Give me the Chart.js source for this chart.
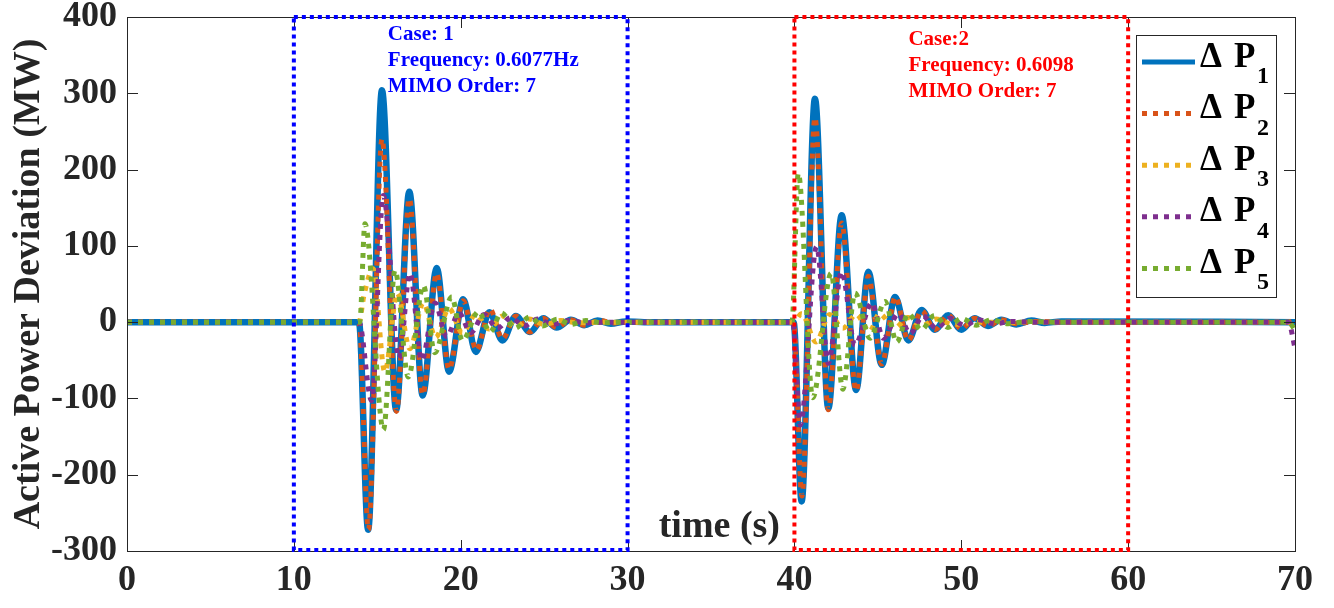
<!DOCTYPE html>
<html>
<head>
<meta charset="utf-8">
<script src="https://cdn.jsdelivr.net/npm/chart.js@4.4.1/dist/chart.umd.min.js"></script>
<style>
  html, body { margin: 0; padding: 0; background: #fff; }
  #wrap { width: 1334px; height: 608px; }
</style>
</head>
<body>
<div id="wrap"><canvas id="c" width="1334" height="608"></canvas></div>
<script>
// values: time (s) and active power deviation (MW)
var tP1 = [0, 13.9, 14.45, 15.28, 16.13, 16.92, 17.72, 18.56, 19.3, 20.15, 20.9, 21.72, 22.5, 23.3, 24.15, 24.95, 25.75, 26.6, 27.4, 28.2, 29.0, 29.9, 31.0, 39.95, 40.43, 41.23, 42.03, 42.83, 43.7, 44.43, 45.23, 46.03, 46.83, 47.62, 48.42, 49.22, 50.0, 50.8, 51.6, 52.4, 53.3, 54.2, 55.0, 56.0, 70];
var vP1 = [0, 0, -272, 304, -115, 171, -96, 71, -65, 30, -39, 13, -24, 8, -13, 5, -7, 3, -4, 2, -2, 1, 0, 0, -235, 293, -113, 140, -89, 66, -56, 33, -24, 16, -10, 9, -10, 5, -5, 3, -3, 2, -1, 1, 0];

var tP2 = [0, 13.9, 14.47, 15.28, 16.15, 16.92, 17.72, 18.56, 19.3, 20.15, 20.95, 21.75, 22.5, 23.3, 24.15, 24.95, 25.75, 26.6, 27.4, 28.3, 29.2, 30.5, 39.95, 40.45, 41.23, 42.03, 42.83, 43.7, 44.43, 45.23, 46.05, 46.83, 47.62, 48.42, 49.22, 50.0, 50.8, 51.6, 52.4, 53.3, 54.5, 56.0, 69.6, 70];
var vP2 = [0, 0, -272, 240, -117, 162, -95, 64, -62, 28, -37, 17, -22, 8, -13, 5, -7, 3, -4, 2, -1, 0, 0, -228, 268, -115, 130, -90, 60, -55, 33, -24, 15, -10, 9, -9, 5, -5, 3, -2, 1, 0, 0, 3];

var tP3 = [0, 13.9, 14.2, 14.75, 15.45, 16.2, 16.95, 17.75, 18.5, 19.3, 20.1, 20.9, 21.7, 22.5, 23.3, 24.1, 25.0, 26.0, 27.0, 28.5, 39.95, 40.43, 41.3, 42.1, 42.9, 43.7, 44.5, 45.1, 46.0, 46.8, 47.6, 48.5, 49.5, 51.0, 70];
var vP3 = [0, 0, 35, 70, -65, 38, -35, 25, -20, 18, -14, 10, -9, 8, -6, 4, -3, 2, -1, 0, 0, 11, -26, 10, -8, 10, -12, 11, -8, 6, -5, 4, -3, 0, 0];

var tP4 = [0, 13.9, 14.66, 15.36, 16.3, 16.96, 17.66, 18.46, 19.16, 19.9, 20.6, 21.4, 22.2, 23.0, 23.8, 24.6, 25.5, 26.5, 27.5, 29.0, 39.9, 40.35, 41.33, 42.03, 42.83, 43.63, 44.63, 45.33, 46.23, 46.93, 47.7, 48.5, 49.3, 50.2, 51.0, 52.0, 53.0, 54.0, 69.6, 70];
var vP4 = [0, 0, -103, 166, -47, 64, -50, 25, -19, 12, -14, 10, -8, 6, -5, 4, -3, 2, -1, 0, 0, -135, 99, -54, 66, -30, 25, -21, 11, -15, 8, -8, 5, -4, 3, -2, 1, 0, 0, -34];

var tP5 = [0, 13.95, 14.26, 15.37, 16.06, 16.86, 17.76, 18.45, 19.46, 20.1, 21.07, 21.75, 22.45, 23.25, 24.15, 24.9, 25.8, 26.6, 27.5, 28.5, 29.5, 39.85, 40.23, 41.1, 42.2, 42.9, 43.63, 44.53, 45.43, 46.13, 46.83, 47.6, 48.4, 49.2, 50.0, 50.9, 51.8, 52.8, 54.0, 55.5, 69.6, 70];
var vP5 = [0, 0, 129, -141, 68, -72, 48, -40, 33, -24, 14, -13, 12, -8, 7, -5, 4, -3, 2, -1, 0, 0, 195, -99, 64, -88, 38, -21, 27, -26, 11, -10, 9, -7, 5, -4, 3, -2, 1, 0, 0, -10];

var seriesNames = ['Δ P₁', 'Δ P₂', 'Δ P₃', 'Δ P₄', 'Δ P₅'];
var seriesSubs = ['1', '2', '3', '4', '5'];

// the two highlighted cases
var caseFrom = [10, 40];
var caseTo = [30, 60];
var caseNotes = [
  ['Case: 1', 'Frequency: 0.6077Hz', 'MIMO Order: 7'],
  ['Case:2', 'Frequency: 0.6098', 'MIMO Order: 7']
];

var xTitle = 'time (s)';
var yTitle = 'Active Power Deviation (MW)';

var colors = ['#0072BD', '#D95319', '#EDB120', '#7E2F8E', '#77AC30'];
var caseColors = ['#0000FF', '#FF0000'];
var serif = '"Liberation Serif", "Times New Roman", serif';

function pts(t, v) {
  return t.map(function (x, i) { return { x: x, y: v[i] }; });
}

function makeSet(i, t, v) {
  return {
    label: seriesNames[i],
    data: pts(t, v),
    borderColor: colors[i],
    backgroundColor: colors[i],
    borderWidth: i == 0 ? 6.5 : 5,
    borderDash: i == 0 ? [] : [5, 6],
    pointRadius: 0,
    fill: false,
    cubicInterpolationMode: 'monotone',
    order: 5 - i
  };
}

var framePlugin = {
  id: 'frame',
  afterDatasetsDraw: function (chart) {
    var ctx = chart.ctx, a = chart.chartArea;
    var xs = chart.scales.x, ys = chart.scales.y;
    ctx.save();
    ctx.strokeStyle = '#262626';
    ctx.lineWidth = 1;
    ctx.setLineDash([]);
    ctx.strokeRect(Math.round(a.left) + 0.5, Math.round(a.top) + 0.5, Math.round(a.right - a.left), Math.round(a.bottom - a.top));
    ctx.beginPath();
    xs.ticks.forEach(function (t) {
      var px = Math.round(xs.getPixelForValue(t.value)) + 0.5;
      ctx.moveTo(px, a.bottom); ctx.lineTo(px, a.bottom - 11);
      ctx.moveTo(px, a.top); ctx.lineTo(px, a.top + 11);
    });
    ys.ticks.forEach(function (t) {
      var py = Math.round(ys.getPixelForValue(t.value)) + 0.5;
      ctx.moveTo(a.left, py); ctx.lineTo(a.left + 11, py);
      ctx.moveTo(a.right, py); ctx.lineTo(a.right - 11, py);
    });
    ctx.stroke();

    // case boxes and their notes
    for (var k = 0; k < caseFrom.length; k++) {
      var x0 = xs.getPixelForValue(caseFrom[k]);
      var x1 = xs.getPixelForValue(caseTo[k]);
      var y0 = ys.getPixelForValue(ys.max);
      var y1 = ys.getPixelForValue(ys.min) - 1;
      ctx.strokeStyle = caseColors[k];
      ctx.lineWidth = 4;
      ctx.setLineDash([4, 4]);
      ctx.strokeRect(x0, y0, x1 - x0, y1 - y0);
      ctx.setLineDash([]);
      ctx.fillStyle = caseColors[k];
      ctx.font = 'bold 21px ' + serif;
      ctx.textAlign = 'left';
      ctx.textBaseline = 'alphabetic';
      var tx = k == 0 ? x0 + 94 : x0 + 114;
      var ty = a.top + (k == 0 ? 23 : 28);
      caseNotes[k].forEach(function (line, j) {
        ctx.fillText(line, tx, ty + j * 26);
      });
    }

    // x axis title sits inside the plot
    ctx.fillStyle = '#262626';
    ctx.font = 'bold 38px ' + serif;
    ctx.textAlign = 'center';
    ctx.textBaseline = 'middle';
    ctx.fillText(xTitle, xs.getPixelForValue(35.5), a.bottom - 24);
    ctx.restore();
  },
  afterDraw: function (chart) {
    // legend box in the upper right corner
    var ctx = chart.ctx, a = chart.chartArea;
    var left = a.right - 159, top = a.top + 18, w = 140, h = 262;
    ctx.save();
    ctx.fillStyle = '#fff';
    ctx.fillRect(left, top, w, h);
    ctx.strokeStyle = '#262626';
    ctx.lineWidth = 1;
    ctx.strokeRect(left + 0.5, top + 0.5, w, h);
    chart.data.datasets.forEach(function (ds, i) {
      var y = top + 27 + i * 51.6;
      ctx.strokeStyle = ds.borderColor;
      ctx.lineWidth = 5;
      ctx.setLineDash(ds.borderDash);
      ctx.beginPath();
      ctx.moveTo(left + 6, y);
      ctx.lineTo(left + (i == 0 ? 59 : 60), y);
      ctx.stroke();
      ctx.setLineDash([]);
      ctx.fillStyle = '#000';
      ctx.textAlign = 'left';
      ctx.textBaseline = 'alphabetic';
      ctx.font = 'bold 35px ' + serif;
      ctx.fillText('Δ', left + 64, y + 4.5);
      ctx.fillText('P', left + 98, y + 4.5);
      ctx.font = 'bold 24px ' + serif;
      ctx.fillText(seriesSubs[i], left + 121, y + 21);
    });
    ctx.restore();
  }
};

var ctx = document.getElementById('c').getContext('2d');
var chart = new Chart(ctx, {
  type: 'line',
  data: {
    datasets: [
      makeSet(0, tP1, vP1),
      makeSet(1, tP2, vP2),
      makeSet(2, tP3, vP3),
      makeSet(3, tP4, vP4),
      makeSet(4, tP5, vP5)
    ]
  },
  options: {
    responsive: false,
    animation: false,
    devicePixelRatio: 1,
    layout: { padding: { left: 0, top: 17, right: 39, bottom: 0 } },
    plugins: { legend: { display: false }, tooltip: { enabled: false } },
    scales: {
      x: {
        type: 'linear',
        min: 0, max: 70,
        grid: { display: false, drawTicks: false },
        border: { display: false },
        ticks: { stepSize: 10, color: '#262626', padding: 8, maxRotation: 0, font: { family: serif, size: 36, weight: 'bold' } },
        afterFit: function (s) { s.height = 57; s.paddingLeft = 0; s.paddingRight = 0; }
      },
      y: {
        min: -300, max: 400,
        grid: { display: false, drawTicks: false },
        border: { display: false },
        ticks: { stepSize: 100, color: '#262626', padding: 10, font: { family: serif, size: 36, weight: 'bold' } },
        title: { display: true, text: yTitle, color: '#262626', padding: { top: 6, bottom: 0 }, font: { family: serif, size: 38, weight: 'bold' } },
        afterFit: function (s) { s.width = 127; s.paddingTop = 0; s.paddingBottom = 0; }
      }
    }
  },
  plugins: [framePlugin]
});
</script>
</body>
</html>
